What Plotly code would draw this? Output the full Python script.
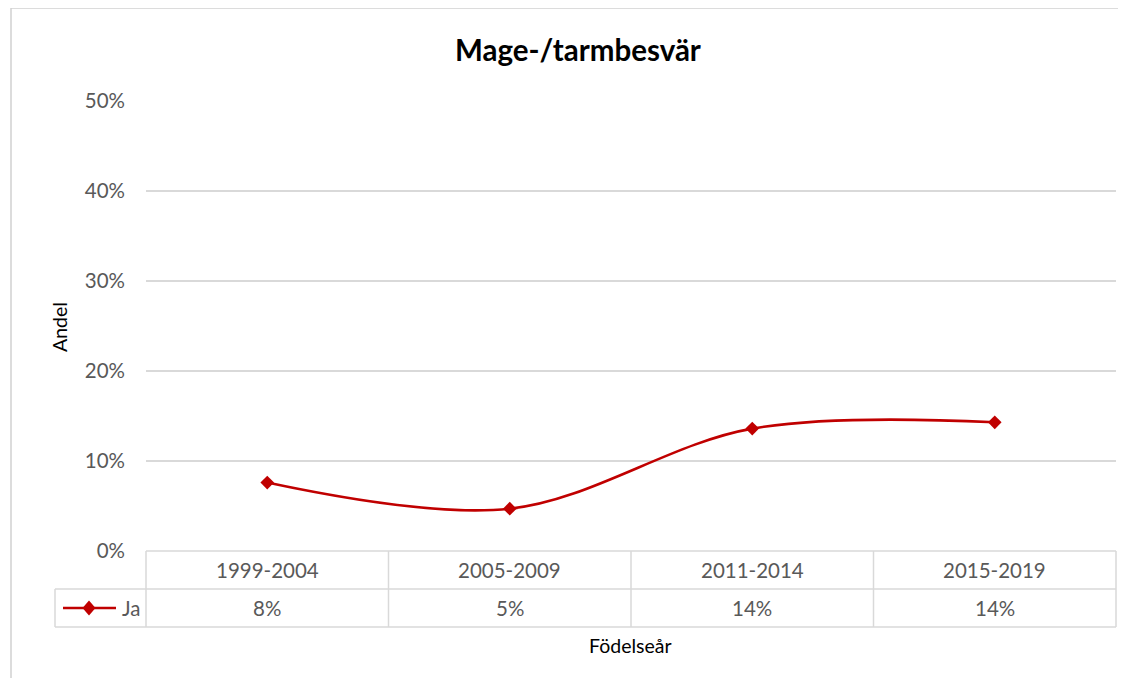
import plotly.graph_objects as go

categories = ["1999-2004", "2005-2009", "2011-2014", "2015-2019"]
values_ja = [0.076, 0.047, 0.136, 0.143]
series_name = "Ja"
y_ticks = [0, 0.1, 0.2, 0.3, 0.4, 0.5]
y_tick_labels = ["0%", "10%", "20%", "30%", "40%", "50%"]
title_text = "Mage-/tarmbesvär"
x_title = "Födelseår"
y_title = "Andel"

OFF = 8  # page body margin offset of the rendered figure
W, H = 1126 - 2 * OFF, 686 - 2 * OFF  # fit inside the window, no scrollbars
FONT = "Lato"
TXT = "#595959"
GRID = "#d9d9d9"
RED = "#C00000"
FS = 20.5


def px(x):
    return (x - OFF) / W


def py(y):
    return 1 - (y - OFF) / H


L, R, T, B = 146, 1116, 101, 551
row1, row2, row3 = 551, 589, 627
leg_left = 55

fig = go.Figure()
fig.add_trace(go.Scatter(
    x=categories, y=values_ja, name=series_name,
    mode="lines+markers",
    line=dict(color=RED, width=2.6, shape="spline", smoothing=1.0),
    marker=dict(symbol="diamond", size=10.5, color=RED),
    showlegend=False, cliponaxis=False,
))

shapes = []
# outer chart-area border (top and left edges visible in the window)
shapes.append(dict(type="line", xref="paper", yref="paper",
                   x0=px(11), x1=1, y0=py(8), y1=py(8),
                   line=dict(color="#d0d0d0", width=1.5), layer="below"))
shapes.append(dict(type="line", xref="paper", yref="paper",
                   x0=px(11), x1=px(11), y0=py(8), y1=0,
                   line=dict(color="#d0d0d0", width=1.5), layer="below"))
# table horizontal lines
for yy, x0 in [(row1, L), (row2, leg_left), (row3, leg_left)]:
    shapes.append(dict(type="line", xref="paper", yref="paper",
                       x0=px(x0), x1=px(R), y0=py(yy), y1=py(yy),
                       line=dict(color=GRID, width=1.5), layer="below"))
# table vertical lines
shapes.append(dict(type="line", xref="paper", yref="paper",
                   x0=px(leg_left), x1=px(leg_left), y0=py(row2), y1=py(row3),
                   line=dict(color=GRID, width=1.5), layer="below"))
n = len(categories)
for i in range(n + 1):
    xx = L + (R - L) * i / n
    shapes.append(dict(type="line", xref="paper", yref="paper",
                       x0=px(xx), x1=px(xx), y0=py(row1), y1=py(row3),
                       line=dict(color=GRID, width=1.5), layer="below"))

# legend key inside the data table
leg_y = (row2 + row3) / 2
shapes.append(dict(type="line", xref="paper", yref="paper",
                   x0=px(63), x1=px(116), y0=py(leg_y), y1=py(leg_y),
                   line=dict(color=RED, width=2.6)))
cx, hw, hh = 89, 6.5, 7.5
diamond = (f"M {px(cx)} {py(leg_y - hh)} L {px(cx + hw)} {py(leg_y)} "
           f"L {px(cx)} {py(leg_y + hh)} L {px(cx - hw)} {py(leg_y)} Z")
shapes.append(dict(type="path", xref="paper", yref="paper", path=diamond,
                   fillcolor=RED, line=dict(color=RED, width=0)))

annotations = [dict(x=px(120), y=py(leg_y), xref="paper", yref="paper",
                    text=series_name, showarrow=False,
                    font=dict(family=FONT, size=FS, color=TXT),
                    xanchor="left", yanchor="middle")]
for c, v in zip(categories, values_ja):
    annotations.append(dict(x=c, xref="x", y=py((row1 + row2) / 2), yref="paper",
                            text=c, showarrow=False,
                            font=dict(family=FONT, size=FS, color=TXT),
                            xanchor="center", yanchor="middle"))
    annotations.append(dict(x=c, xref="x", y=py(leg_y), yref="paper",
                            text=f"{int(v * 100 + 0.5)}%", showarrow=False,
                            font=dict(family=FONT, size=FS, color=TXT),
                            xanchor="center", yanchor="middle"))
annotations.append(dict(x=px(630), y=py(645), xref="paper", yref="paper",
                        text=x_title, showarrow=False,
                        font=dict(family=FONT, size=19.5, color="#000000"),
                        xanchor="center", yanchor="middle"))
annotations.append(dict(x=px(59), y=py(327), xref="paper", yref="paper",
                        text=y_title, showarrow=False, textangle=-90,
                        font=dict(family=FONT, size=19.5, color="#000000"),
                        xanchor="center", yanchor="middle"))
annotations.append(dict(x=px(578), y=py(50), xref="paper", yref="paper",
                        text=f"<b>{title_text}</b>", showarrow=False,
                        font=dict(family=FONT, size=29.5, color="#000000"),
                        xanchor="center", yanchor="middle"))

fig.update_layout(
    width=W, height=H,
    margin=dict(l=0, r=0, t=0, b=0),
    paper_bgcolor="white", plot_bgcolor="white",
    xaxis=dict(domain=[px(L), px(R)], range=[-0.5, n - 0.5],
               showticklabels=False, showgrid=False, zeroline=False,
               showline=False, type="category"),
    yaxis=dict(domain=[py(B), py(T)], range=[0, 0.5],
               tickvals=y_ticks, ticktext=y_tick_labels,
               tickfont=dict(family=FONT, size=FS, color=TXT),
               showgrid=True, gridcolor=GRID, gridwidth=1.5,
               zeroline=False, showline=False, ticks="",
               ticklabelstandoff=20, automargin=False),
    showlegend=False,
    shapes=shapes,
    annotations=annotations,
)

fig.write_html("out.html")
